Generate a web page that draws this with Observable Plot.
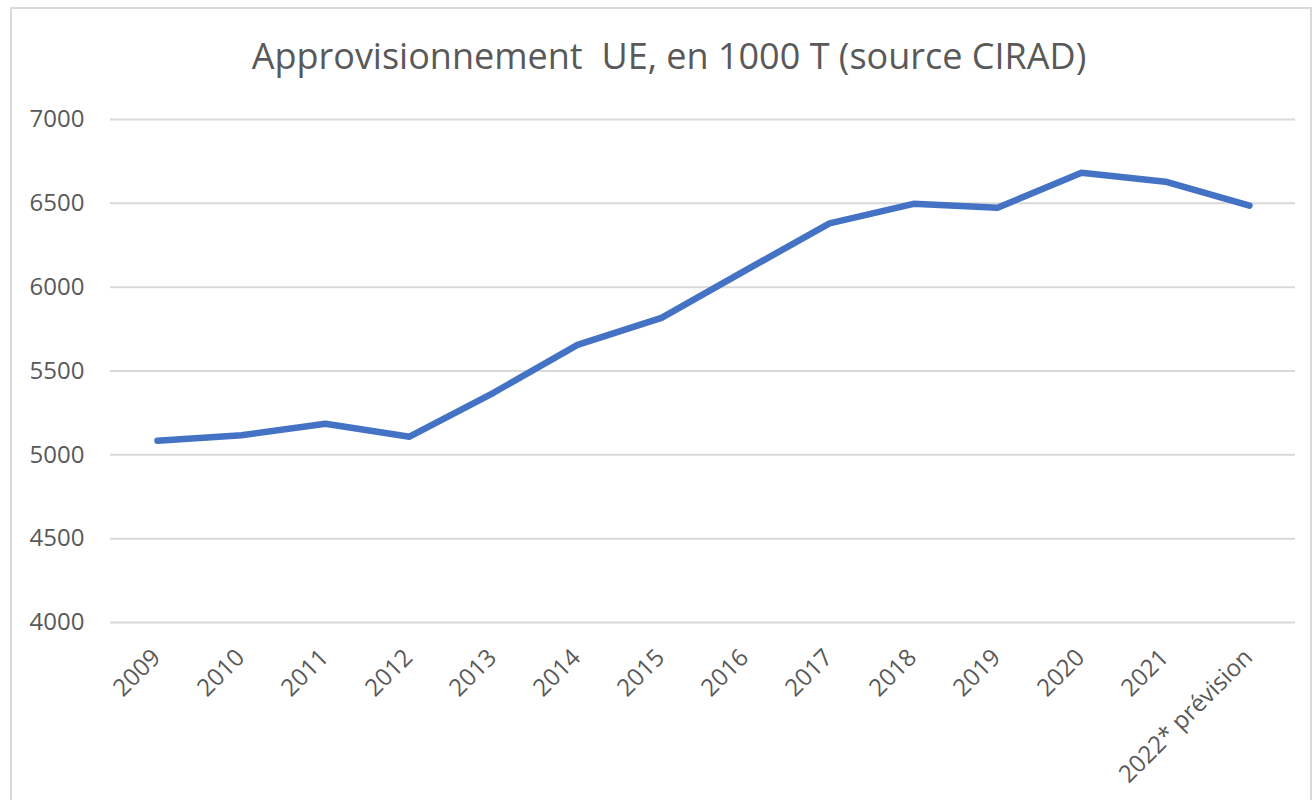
<!DOCTYPE html>
<html>
<head>
<meta charset="utf-8">
<script src="https://cdn.jsdelivr.net/npm/d3@7"></script>
<script src="https://cdn.jsdelivr.net/npm/@observablehq/plot@0.6"></script>
<style>
  html, body { margin: 0; padding: 0; background: #fff; width: 1316px; height: 800px; overflow: hidden; }
  #frame { position: absolute; left: 10px; top: 7px; width: 1302px; height: 800px; border: 2px solid #d9d9d9; box-sizing: border-box; }
  #title { position: absolute; left: 0; top: 36px; width: 1338px; text-align: center; font-family: "Open Sans", sans-serif; font-size: 36px; line-height: 40px; color: #595959; white-space: pre; }
  #chart { position: absolute; left: 0; top: 100px; }
  #chart svg { overflow: visible; }
</style>
</head>
<body>
<div id="frame"></div>
<div id="title">Approvisionnement  UE, en 1000 T (source CIRAD)</div>
<div id="chart"></div>
<script>
const years = ["2009", "2010", "2011", "2012", "2013", "2014", "2015", "2016", "2017", "2018", "2019", "2020", "2021", "2022* prévision"];
const supply = [5084, 5117, 5185, 5108, 5370, 5656, 5817, 6100, 6380, 6497, 6474, 6682, 6629, 6486];
const yTicks = [4000, 4500, 5000, 5500, 6000, 6500, 7000];

const data = years.map((year, i) => ({year, value: supply[i]}));

const chart = Plot.plot({
  width: 1316,
  height: 700,
  marginTop: 19,
  marginBottom: 178,
  marginLeft: 110,
  marginRight: 21,
  style: {fontFamily: "'Open Sans', sans-serif", fontSize: "24px", color: "#595959", background: "transparent"},
  x: {type: "point", domain: years, padding: 0.5, label: null},
  y: {domain: [4000, 7000], label: null},
  marks: [
    Plot.gridY(yTicks, {stroke: "#d9d9d9", strokeOpacity: 1, strokeWidth: 2}),
    Plot.axisY(yTicks, {tickSize: 0, tickPadding: 26, label: null, fill: "#595959", fontSize: 24, tickFormat: d => String(d)}),
    Plot.axisX({tickSize: 0, tickRotate: -45, tickPadding: 31, dx: -1, label: null, fill: "#595959", fontSize: 24}),
    Plot.line(data, {x: "year", y: "value", stroke: "#4472c4", strokeWidth: 6.5, strokeLinejoin: "round", strokeLinecap: "round"})
  ]
});
document.getElementById("chart").appendChild(chart);
</script>
</body>
</html>
